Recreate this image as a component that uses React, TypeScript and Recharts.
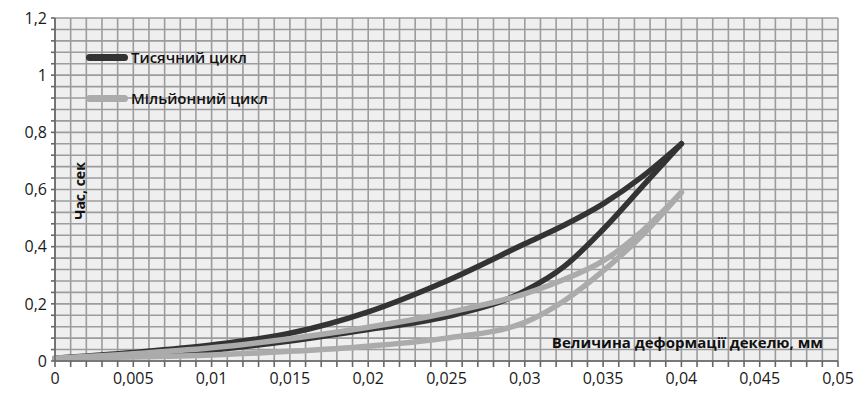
import { CartesianGrid, Label, Line, LineChart, XAxis, YAxis } from 'recharts'

// deformation, mm (shared by every branch of both loops)
const deform = [0, 0.005, 0.01, 0.015, 0.02, 0.025, 0.03, 0.0325, 0.035, 0.0375, 0.04]

// time, s — loading (upper) and unloading (lower) branches
const thousandUpper = [0.01, 0.03, 0.056, 0.097, 0.172, 0.28, 0.41, 0.475, 0.55, 0.645, 0.76]
const thousandLower = [0.01, 0.02, 0.038, 0.07, 0.11, 0.155, 0.245, 0.33, 0.46, 0.61, 0.76]
const millionUpper = [0.01, 0.025, 0.046, 0.078, 0.118, 0.168, 0.235, 0.285, 0.35, 0.455, 0.59]
const millionLower = [0.01, 0.014, 0.021, 0.034, 0.052, 0.08, 0.135, 0.21, 0.315, 0.44, 0.59]

const seriesNames = ['Тисячний цикл', 'Мільйонний цикл']
const xTitle = 'Величина деформації декелю, мм'
const yTitle = 'Час, сек'

const xMajor = [0, 0.005, 0.01, 0.015, 0.02, 0.025, 0.03, 0.035, 0.04, 0.045, 0.05]
const yMajor = [0, 0.2, 0.4, 0.6, 0.8, 1, 1.2]

// minor grid: every 0.001 mm and every 0.04 s
const xTicks = Array.from({ length: 51 }, (_, i) => Number((i * 0.001).toFixed(3)))
const yTicks = Array.from({ length: 31 }, (_, i) => Number((i * 0.04).toFixed(2)))

const DARK = '#333333'
const LIGHT = '#ababab'
const FONT = '"Open Sans", sans-serif'

const toRows = (ys: number[]) => deform.map((x, i) => ({ x, y: ys[i] }))

const isMajor = (v: number, list: number[]) => list.some((m) => Math.abs(m - v) < 1e-9)
const fmt = (v: number) => String(v).replace('.', ',')

export default function App() {
  return (
    <div style={{ position: 'fixed', left: 0, top: 0, width: 856, height: 397, background: '#fff' }}>
      <LineChart width={856} height={397} margin={{ top: 18, right: 18, bottom: 8, left: 8 }}>
        <CartesianGrid fill="#efefef" stroke="#9c9c9c" strokeWidth={1.6} />
        <XAxis
          type="number"
          dataKey="x"
          domain={[0, 0.05]}
          ticks={xTicks}
          interval={0}
          height={28}
          tickSize={6}
          tickMargin={6}
          stroke="#666"
          strokeWidth={1.6}
          tickFormatter={(v: number) => (isMajor(v, xMajor) ? fmt(v) : '')}
          tick={{ fill: '#1a1a1a', fontSize: 16, fontFamily: FONT }}
        >
          <Label
            content={({ viewBox }: any) => (
              <text
                x={viewBox.x + viewBox.width - 15}
                y={viewBox.y - 13}
                textAnchor="end"
                fontFamily={FONT}
                fontSize={15}
                fontWeight={700}
                fill="#111"
              >
                {xTitle}
              </text>
            )}
          />
        </XAxis>
        <YAxis
          type="number"
          domain={[0, 1.2]}
          ticks={yTicks}
          interval={0}
          width={47}
          tickSize={4}
          tickMargin={4}
          stroke="#666"
          strokeWidth={1.6}
          tickFormatter={(v: number) => (isMajor(v, yMajor) ? fmt(v) : '')}
          tick={{ fill: '#1a1a1a', fontSize: 16, fontFamily: FONT }}
        >
          <Label
            content={({ viewBox }: any) => {
              const cx = viewBox.x + viewBox.width + 24
              const cy = viewBox.y + 173
              return (
                <text
                  x={cx}
                  y={cy}
                  transform={`rotate(-90, ${cx}, ${cy})`}
                  textAnchor="middle"
                  dominantBaseline="central"
                  fontFamily={FONT}
                  fontSize={14}
                  fontWeight={700}
                  fill="#111"
                >
                  {yTitle}
                </text>
              )
            }}
          />
        </YAxis>
        <Line data={toRows(thousandLower)} dataKey="y" type="monotone" stroke={DARK} strokeWidth={5.5}
          strokeLinecap="round" dot={false} activeDot={false} legendType="none" isAnimationActive={false} />
        <Line data={toRows(thousandUpper)} dataKey="y" name={seriesNames[0]} type="monotone" stroke={DARK} strokeWidth={5.5}
          strokeLinecap="round" dot={false} activeDot={false} isAnimationActive={false} />
        <Line data={toRows(millionLower)} dataKey="y" type="monotone" stroke={LIGHT} strokeWidth={5.5}
          strokeLinecap="round" dot={false} activeDot={false} legendType="none" isAnimationActive={false} />
        <Line data={toRows(millionUpper)} dataKey="y" name={seriesNames[1]} type="monotone" stroke={LIGHT} strokeWidth={5.5}
          strokeLinecap="round" dot={false} activeDot={false} isAnimationActive={false} />
      </LineChart>
      {[DARK, LIGHT].map((color, i) => (
        <div
          key={i}
          style={{
            position: 'absolute',
            left: 86,
            top: 46 + i * 41,
            height: 22,
            display: 'flex',
            alignItems: 'center',
            fontFamily: FONT,
            fontSize: 15,
            fontWeight: 600,
            color: '#111',
          }}
        >
          <span style={{ display: 'inline-block', width: 42, height: 7, borderRadius: 4, background: color, marginRight: 3 }} />
          {seriesNames[i]}
        </div>
      ))}
    </div>
  )
}
